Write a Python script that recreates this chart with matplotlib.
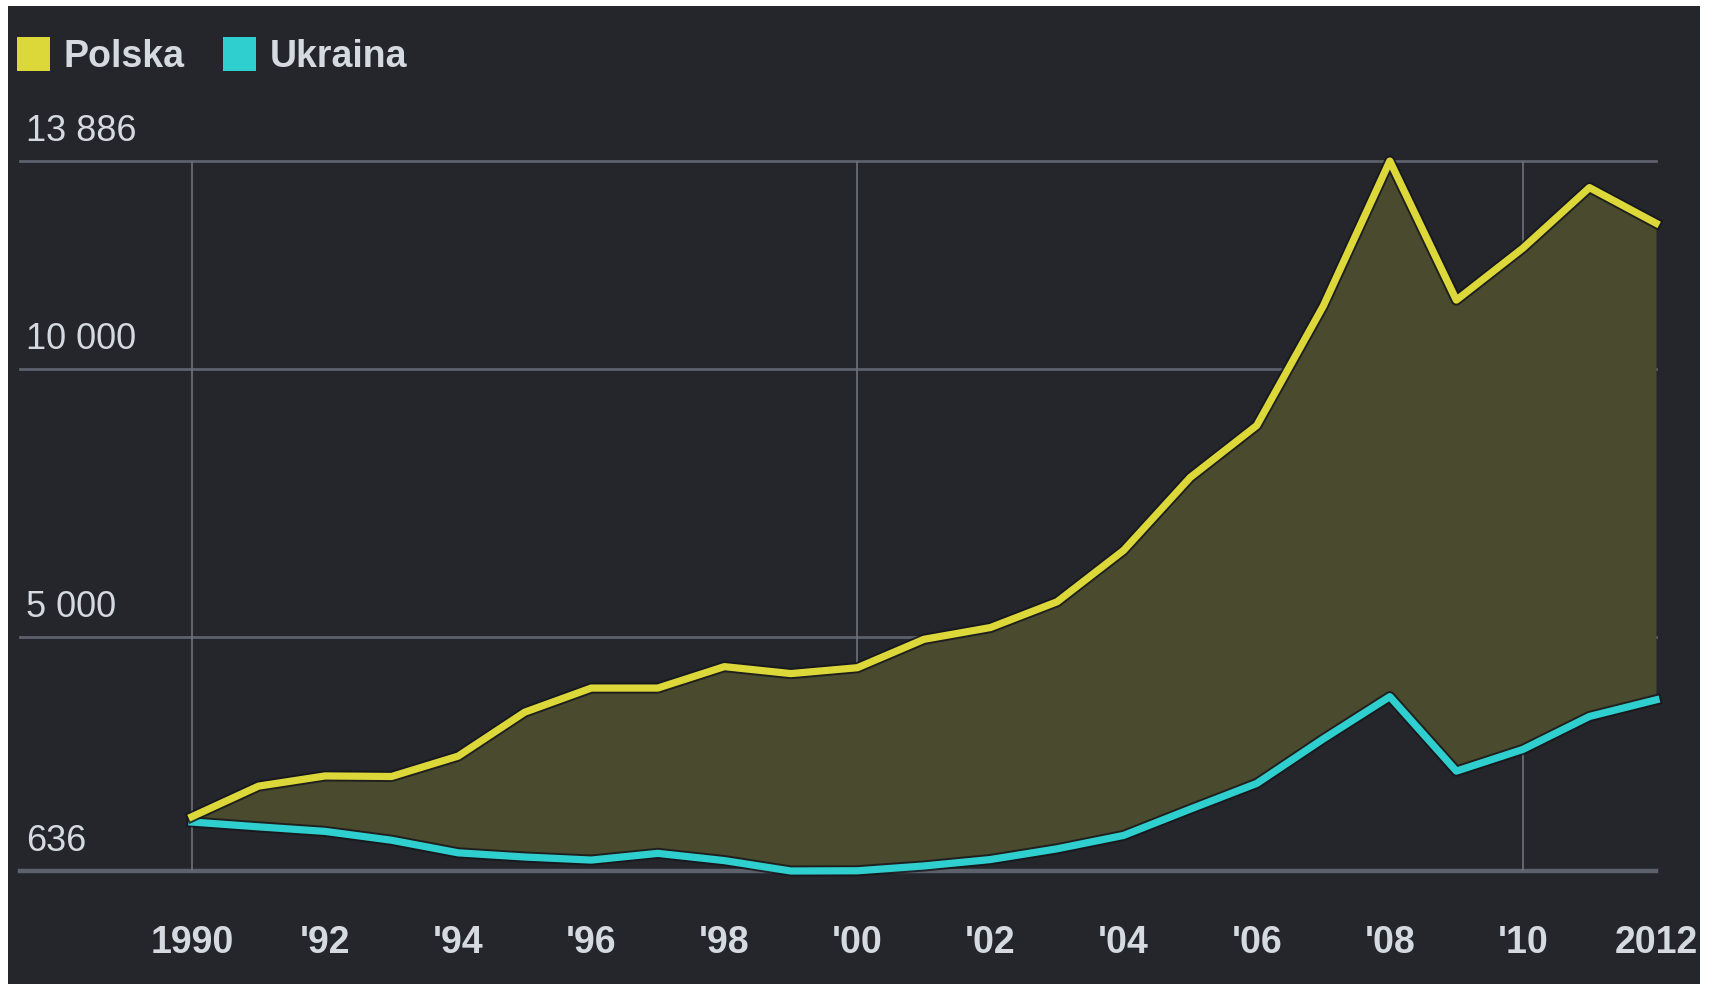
import matplotlib
matplotlib.use('Agg')
import matplotlib.pyplot as plt
import matplotlib.patheffects as pe
from matplotlib.patches import Rectangle

# data
years = list(range(1990, 2013))
polska = [1650, 2220, 2410, 2400, 2780, 3600, 4050, 4050, 4450, 4320, 4430, 4960,
          5180, 5660, 6620, 7980, 8950, 11180, 13886, 11290, 12260, 13390, 12725]
ukraina = [1550, 1460, 1375, 1210, 975, 897, 840, 965, 830, 636, 640, 730,
           850, 1050, 1300, 1790, 2270, 3100, 3890, 2500, 2905, 3520, 3830]
series_names = ['Polska', 'Ukraina']
series_colors = ['#dcd83a', '#2fcfcf']
y_ticks = [636, 5000, 10000, 13886]
y_labels = ['636', '5 000', '10 000', '13 886']
x_ticks = [1990, 1992, 1994, 1996, 1998, 2000, 2002, 2004, 2006, 2008, 2010, 2012]
x_labels = ['1990', "'92", "'94", "'96", "'98", "'00", "'02", "'04", "'06", "'08", "'10", '2012']
vgrid_years = [1990, 2000, 2010]

W, H = 1712, 984
bg = '#24262c'
txt = '#d5d9e0'
plt.rcParams['font.family'] = ['Liberation Sans Narrow', 'Liberation Sans', 'DejaVu Sans']

fig = plt.figure(figsize=(W / 100, H / 100), dpi=100, facecolor='white')
fig.patches.append(Rectangle((8 / W, 0), (1700 - 8) / W, 1 - 6 / H,
                             transform=fig.transFigure, facecolor=bg, edgecolor='none', zorder=-10))

ax = fig.add_axes([20 / W, 1 - 871 / H, (1656 - 20) / W, (871 - 161) / H])
ax.set_facecolor('none')
x0 = 1990 - (192 - 20) / ((1656 - 192) / 22)
ax.set_xlim(x0, 2012)
ax.set_ylim(y_ticks[0], y_ticks[-1])
for s in ax.spines.values():
    s.set_visible(False)
ax.set_xticks([])
ax.set_yticks([])

# grid
for v in y_ticks:
    ax.axhline(v, color='#5c616c', lw=3.2 if v == y_ticks[0] else 2.0, zorder=1, clip_on=False)
for yr in vgrid_years:
    ax.plot([yr, yr], [y_ticks[0], y_ticks[-1]], color='#6c717b', lw=1.2, zorder=1)

ax.fill_between(years, ukraina, polska, color='#4a4a2f', zorder=2, lw=0)
outline = [pe.Stroke(linewidth=8, foreground='#15161a', alpha=0.8), pe.Normal()]
ax.plot(years, ukraina, color=series_colors[1], lw=5.2, zorder=3, clip_on=False,
        solid_joinstyle='round', path_effects=outline)
ax.plot(years, polska, color=series_colors[0], lw=5.2, zorder=4, clip_on=False,
        solid_joinstyle='round', path_effects=outline)

# y labels above gridlines
for v, lab in zip(y_ticks, y_labels):
    ax.annotate(lab, xy=(x0, v), xytext=(6, 20), textcoords='offset pixels',
                color=txt, fontsize=26, ha='left', va='baseline')

# x labels
for yr, lab in zip(x_ticks, x_labels):
    ax.annotate(lab, xy=(yr, y_ticks[0]), xytext=(0, -82), textcoords='offset pixels',
                color=txt, fontsize=27, fontweight='bold', ha='center', va='baseline',
                annotation_clip=False)

# legend
leg_x = [17, 223]
for name, col, lx in zip(series_names, series_colors, leg_x):
    fig.patches.append(Rectangle((lx / W, 1 - 71 / H), 33 / W, 34 / H, transform=fig.transFigure,
                                 facecolor=col, edgecolor='none', zorder=5))
    fig.text((lx + 47) / W, 1 - 57 / H, name, color=txt, fontsize=27, fontweight='bold',
             ha='left', va='center')

fig.savefig('out.png', dpi=100, facecolor=fig.get_facecolor())
